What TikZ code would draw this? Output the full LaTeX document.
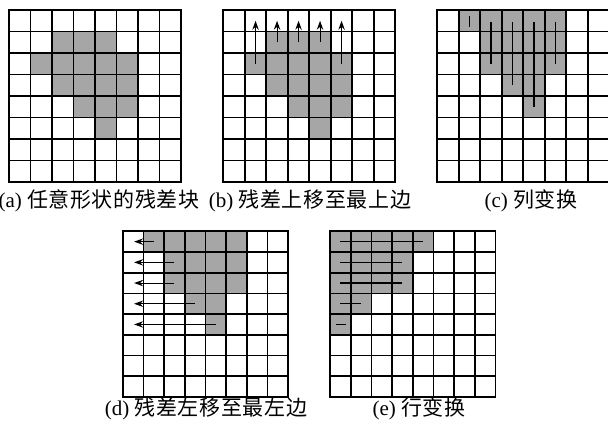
\documentclass[tikz,border=0pt]{standalone}
\usepackage{fontspec}
\setmainfont{Liberation Serif}
\newfontfamily\cjk[LetterSpace=3]{Noto Sans CJK SC}
\usetikzlibrary{arrows.meta}

\begin{document}
\begin{tikzpicture}[x=0.5pt,y=-0.5pt,font=\fontsize{10.5}{12}\selectfont,
    cellfill/.style={fill=black!35},
    gridline/.style={line width=0.85pt,line cap=rect},
    moveup/.style={-{Stealth[length=4.5pt,width=3.2pt]},line width=0.55pt},
    scanline/.style={line width=0.65pt},
    caption/.style={anchor=base,inner sep=0pt}]
  \useasboundingbox (0,0) rectangle (608,427);
  % (a) original block
  \begin{scope}[shift={(9,10)},x=10.75pt,y=-10.75pt]
    \foreach \r/\a/\b in {1/2/4,2/1/5,3/2/5,4/3/5,5/4/4}
      \fill[cellfill] (\a,\r) rectangle (\b+1,\r+1);
    \foreach \i in {0,...,8} {
      \draw[gridline] (\i,0) -- (\i,8);
      \draw[gridline] (0,\i) -- (8,\i);
    }
  \end{scope}
  % (b) shift up
  \begin{scope}[shift={(223.3,10)},x=10.75pt,y=-10.75pt]
    \foreach \r/\a/\b in {1/2/4,2/1/5,3/2/5,4/3/5,5/4/4}
      \fill[cellfill] (\a,\r) rectangle (\b+1,\r+1);
    \foreach \i in {0,...,8} {
      \draw[gridline] (\i,0) -- (\i,8);
      \draw[gridline] (0,\i) -- (8,\i);
    }
    \foreach \c/\r in {1/2,2/1,3/1,4/1,5/2}
      \draw[moveup] (\c+.5,\r+.5) -- (\c+.5,.5);
  \end{scope}
  % (c) column transform
  \begin{scope}[shift={(437.3,10)},x=10.75pt,y=-10.75pt]
    \foreach \r/\a/\b in {0/1/5,1/2/5,2/2/5,3/3/4,4/4/4}
      \fill[cellfill] (\a,\r) rectangle (\b+1,\r+1);
    \foreach \i in {0,...,8} {
      \draw[gridline] (\i,0) -- (\i,8);
      \draw[gridline] (0,\i) -- (8,\i);
    }
    \draw[scanline] (1.5,.3) -- (1.5,.78);
    \foreach \c/\r in {2/2,3/3,4/4,5/2}
      \draw[scanline] (\c+.5,.55) -- (\c+.5,\r+.5);
  \end{scope}
  % (d) shift left
  \begin{scope}[shift={(122.7,231.3)},x=10.35pt,y=-10.35pt]
    \foreach \r/\a/\b in {0/1/5,1/2/5,2/2/5,3/3/4,4/4/4}
      \fill[cellfill] (\a,\r) rectangle (\b+1,\r+1);
    \foreach \i in {0,...,8} {
      \draw[gridline] (\i,0) -- (\i,8);
      \draw[gridline] (0,\i) -- (8,\i);
    }
    \foreach \r/\c in {0/1,1/2,2/2,3/3,4/4}
      \draw[moveup] (\c+.5,\r+.5) -- (.55,\r+.5);
  \end{scope}
  % (e) row transform
  \begin{scope}[shift={(330,231.3)},x=10.35pt,y=-10.35pt]
    \foreach \r/\b in {0/4,1/3,2/3,3/1,4/0}
      \fill[cellfill] (0,\r) rectangle (\b+1,\r+1);
    \foreach \i in {0,...,8} {
      \draw[gridline] (\i,0) -- (\i,8);
      \draw[gridline] (0,\i) -- (8,\i);
    }
    \foreach \r/\b in {0/4,1/3,2/3,3/1}
      \draw[scanline] (.5,\r+.5) -- (\b+.5,\r+.5);
    \draw[scanline] (.28,4.5) -- (.76,4.5);
  \end{scope}
  \node[caption] (capa) at (99,207) {(a) {\cjk 任意形状的残差块}};
  \node[caption] (capb) at (310,207) {(b) {\cjk 残差上移至最上边}};
  \node[caption] (capc) at (531,207) {(c) {\cjk 列变换}};
  \node[caption] (capd) at (206,415) {(d) {\cjk 残差左移至最左边}};
  \node[caption] (cape) at (419,415) {(e) {\cjk 行变换}};
\end{tikzpicture}
\end{document}
